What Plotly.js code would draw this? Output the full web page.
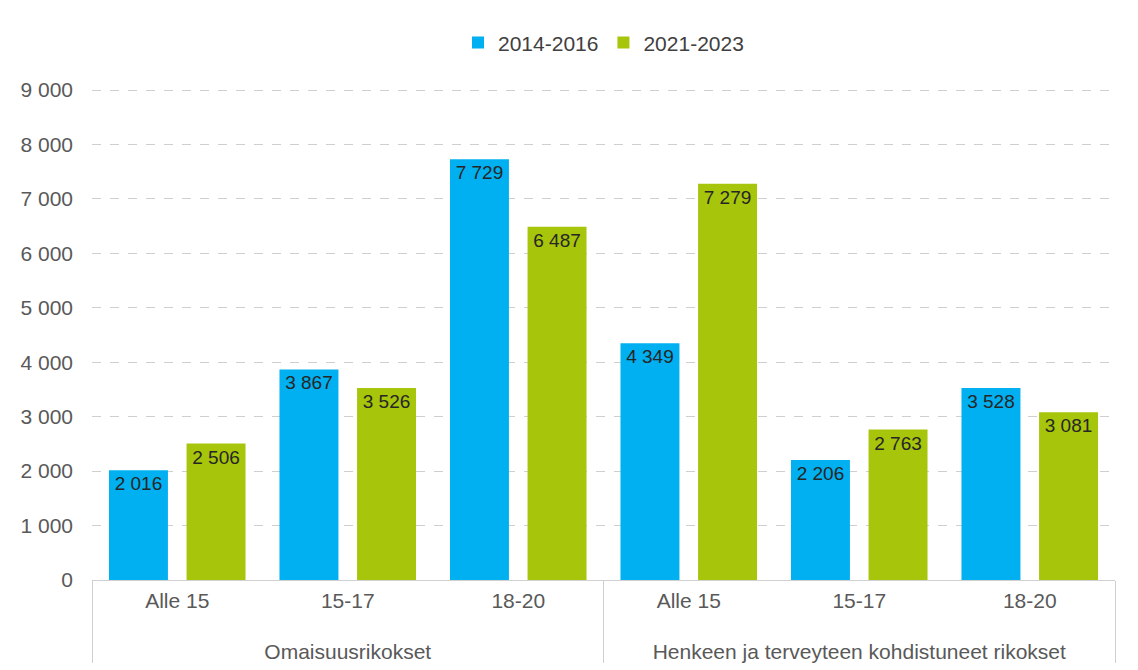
<!DOCTYPE html>
<html>
<head>
<meta charset="utf-8">
<script src="https://cdn.plot.ly/plotly-3.0.1.min.js"></script>
<style>html,body{margin:0;padding:0;background:#fff;}#chart{width:1138px;height:670px;}</style>
</head>
<body>
<div id="chart"></div>
<script>
const groupNames = ["Omaisuusrikokset", "Henkeen ja terveyteen kohdistuneet rikokset"];
const groups = [groupNames[0],groupNames[0],groupNames[0],groupNames[1],groupNames[1],groupNames[1]];
const ages = ["Alle 15","15-17","18-20","Alle 15","15-17","18-20"];
const series1Name = "2014-2016";
const series2Name = "2021-2023";
const series1 = [2016, 3867, 7729, 4349, 2206, 3528];
const series2 = [2506, 3526, 6487, 7279, 2763, 3081];
const yTicks = [0,1000,2000,3000,4000,5000,6000,7000,8000,9000];

function fmt(v){ return String(v).replace(/\B(?=(\d{3})+(?!\d))/g, " "); }
// group label drawn one line lower, like the reference
const groupLabels = groups.map(g => "&nbsp;<br>" + g);

const font = "Liberation Sans, Arial, sans-serif";
const textFont = {family: font, size: 19, color: "#262626"};

const traces = [
  {type:"bar", name: series1Name, x:[groupLabels, ages], y: series1,
   marker:{color:"#00B0F0"}, text: series1.map(fmt), textposition:"inside",
   insidetextanchor:"end", textfont:textFont, textangle:0, cliponaxis:false},
  {type:"bar", name: series2Name, x:[groupLabels, ages], y: series2,
   marker:{color:"#A7C50A"}, text: series2.map(fmt), textposition:"inside",
   insidetextanchor:"end", textfont:textFont, textangle:0, cliponaxis:false}
];

const layout = {
  width:1138, height:670,
  paper_bgcolor:"#ffffff", plot_bgcolor:"#ffffff",
  margin:{l:92, r:23, t:85, b:90, autoexpand:false},
  barmode:"group", bargap:0.09, bargroupgap:0.24,
  font:{family:font, size:21, color:"#595959"},
  showlegend:true,
  legend:{orientation:"h", x:0.5, xanchor:"center", y:1.085, yanchor:"middle",
    font:{family:font, size:21, color:"#404040"}, traceorder:"normal", itemwidth:30},
  xaxis:{type:"multicategory", showline:true, linecolor:"#d0d0d0", linewidth:1,
    showdividers:true, dividercolor:"#d0d0d0", dividerwidth:1, ticklabelstandoff:2,
    tickfont:{family:font, size:21, color:"#595959"}, automargin:false, showgrid:false},
  yaxis:{range:[0,9092], tickvals:yTicks, ticktext:yTicks.map(fmt),
    showgrid:true, gridcolor:"#cfcfcf", griddash:"dash", gridwidth:1,
    zeroline:false, showline:false, ticklabelstandoff:18,
    tickfont:{family:font, size:21, color:"#595959"}, automargin:false}
};

Plotly.newPlot("chart", traces, layout, {displayModeBar:false, staticPlot:true});
</script>
</body>
</html>
